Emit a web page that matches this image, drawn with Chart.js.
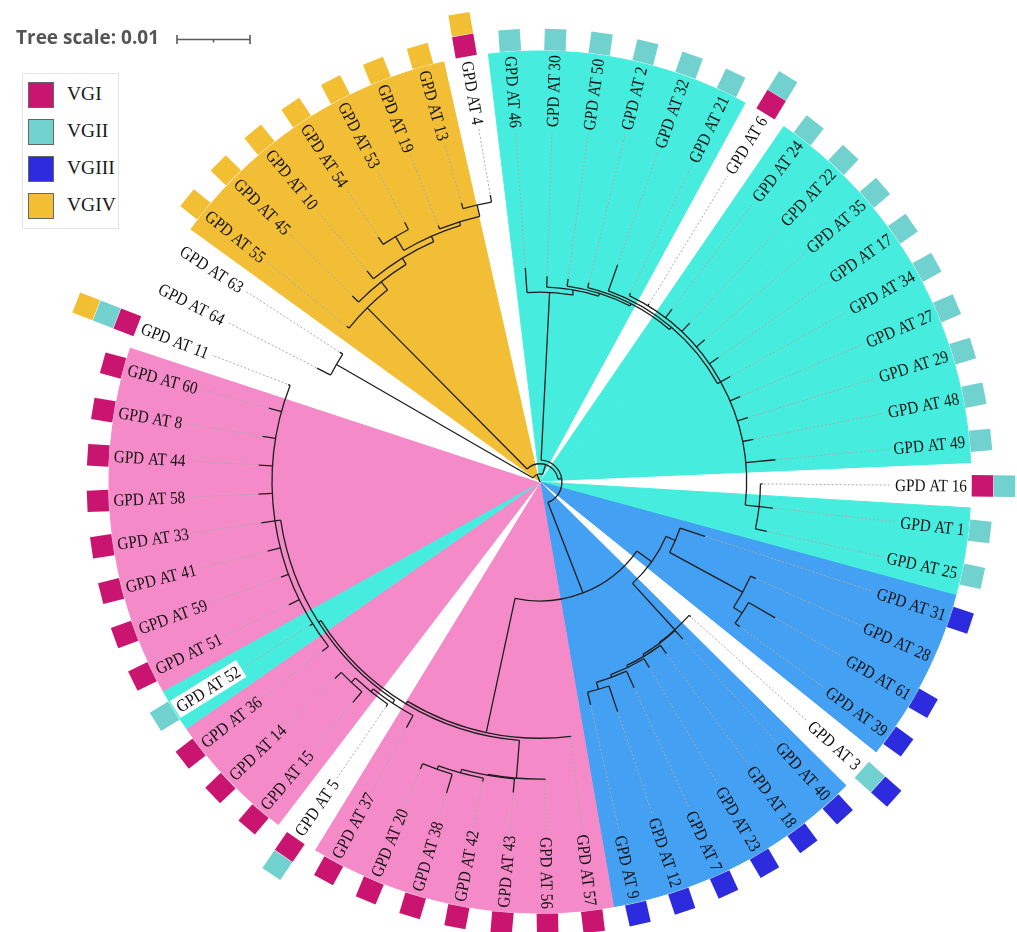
<!DOCTYPE html>
<html>
<head>
<meta charset="utf-8">
<title>GPD AT tree</title>
<script src="https://cdn.jsdelivr.net/npm/chart.js@4.4.1/dist/chart.umd.min.js"></script>
<style>
  html, body { margin: 0; padding: 0; background: #fff; }
  #wrap { position: relative; width: 1017px; height: 932px; overflow: hidden; }
  #wrap canvas { position: absolute; left: 0; top: 0; width: 1017px; height: 932px; }
  #scaleText { position: absolute; left: 16px; top: 28px; font: bold 19px "Open Sans", sans-serif; line-height: 19px; color: #555; white-space: nowrap; }
  #legend { position: absolute; left: 22px; top: 73px; width: 95px; height: 154px; border: 1px solid #e4e4e4; background: #fff; }
  .sw { position: absolute; left: 5px; width: 24px; height: 24px; border: 1px solid #666; }
  .lt { position: absolute; left: 44px; font: 19.5px "Liberation Serif", serif; line-height: 24px; color: #1a1a1a; white-space: nowrap; }
</style>
</head>
<body>
<div id="wrap">
  <canvas id="wedges" width="1017" height="932"></canvas>
  <canvas id="tree" width="1017" height="932"></canvas>
  <div id="scaleText">Tree scale: 0.01</div>
  <div id="legend"></div>
</div>
<script>
// ---- data: tree (leaves are the numbers of "GPD AT n"), branch lengths in subst./site
const treeNewick =
  "((64:0.0021,63:0.0005):0.0311," +
  "((55:0.0004,(45:0.0012,(10:0.0014,((54:0.0012,53:0.0011):0.0022,(19:0.0005,(13:0.0008,4:0.0010):0.0016):0.0005):0.0008):0.0010):0.0014):0.0311," +
  "((46:0.0034,(30:0.0015,(50:0.0010,(2:0.0007,(32:0.0038,(21:0.0004,6:0.0003,24:0.0015,22:0.0016,35:0.0015,17:0.0015,34:0.0015,27:0.0015,29:0.0015,48:0.0015,49:0.0041,(16:0.0003,1:0.0019,25:0.0016):0.0019):0.0005):0.0004):0.0003):0.0004):0.0007):0.0230," +
  "(((31:0.0036,(28:0.0008,(61:0.0042,39:0.0008):0.0014):0.0114):0.0014,(3:0.0003,(40:0.0016,(18:0.0014,(23:0.0014,(7:0.0025,(12:0.0037,9:0.0018):0.0010):0.0004):0.0003):0.0003):0.0001):0.0086):0.0025," +
  "(57:0.0001,((56:0.0001,(43:0.0019,(42:0.0005,(38:0.0027,20:0.0008):0.0005):0.0005):0.0001):0.0052,((37:0.0019,(5:0.0004,(15:0.0019,14:0.0012):0.0008):0.0005):0.0005,(36:0.0011,52:0.0005,51:0.0016,59:0.0011,41:0.0018,33:0.0019,58:0.0019,44:0.0019,8:0.0018,60:0.0018,11:0.0003):0.0008):0.0004):0.0004):0.0188):0.0133):0.0005):0.0014):0.0011;";

// coloured clade ranges
const cladeYellow = [55, 45, 10, 54, 53, 19, 13];
const cladeCyan = [46, 30, 50, 2, 32, 21, 24, 22, 35, 17, 34, 27, 29, 48, 49, 1, 25, 52];
const cladeBlue = [31, 28, 61, 39, 40, 18, 23, 7, 12, 9];
const cladePink = [57, 56, 43, 42, 38, 20, 37, 15, 14, 36, 51, 59, 41, 33, 58, 44, 8, 60];

// molecular types per isolate (outer squares)
const genotypes = ['VGI', 'VGII', 'VGIII', 'VGIV'];
const withVGI = [4, 6, 16, 57, 56, 43, 42, 38, 20, 37, 5, 15, 14, 36, 51, 59, 41, 33, 58, 44, 8, 60, 11];
const withVGII = [46, 30, 50, 2, 32, 21, 6, 24, 22, 35, 17, 34, 27, 29, 48, 49, 16, 1, 25, 3, 5, 52, 11];
const withVGIII = [31, 61, 39, 3, 40, 18, 23, 7, 12, 9];
const withVGIV = [55, 45, 10, 54, 53, 19, 13, 4, 11];
const boxedLabels = [52];
const TREE_SCALE = 0.01;

// ---- look
const PX_PER_SUB = 7300;               // 0.01 -> 73 px
const ANCHOR_LEAF = '16', ANCHOR_ANGLE = 0.5;
const WEDGE_R = 431, LABEL_R = 427, RING_R = [442.5, 464.5, 486.5], SQUARE = 21.5;
const LABEL_FONT = '17.5px "Liberation Serif", serif', LABEL_SX = 0.87;
const wedgeColor = { yellow: '#F2BE35', cyan: '#46EDDE', blue: '#44A0F2', pink: '#F58AC9', none: '#FFFFFF' };
const genoColor = { VGI: '#C9156F', VGII: '#70D1CE', VGIII: '#2C2CDE', VGIV: '#F2BE32' };
const D2R = Math.PI / 180;

function parseNewick(str) {
  const s = str.replace(/\s+/g, '');
  let i = 0;
  function read() {
    const n = { children: [], name: '', len: 0 };
    if (s[i] === '(') {
      i++;
      do { n.children.push(read()); } while (s[i++] === ',');
    }
    let tok = '';
    while (i < s.length && ':,();'.indexOf(s[i]) < 0) tok += s[i++];
    n.name = tok;
    if (s[i] === ':') {
      i++; tok = '';
      while (i < s.length && ',();'.indexOf(s[i]) < 0) tok += s[i++];
      n.len = parseFloat(tok);
    }
    return n;
  }
  return read();
}

const root = parseNewick(treeNewick);
const nodes = [], leaves = [];
(function walk(n, parentDepth) {
  n.parentDepth = parentDepth;
  n.depth = parentDepth + n.len * PX_PER_SUB;
  nodes.push(n);
  if (!n.children.length) leaves.push(n);
  n.children.forEach(c => walk(c, n.depth));
})(root, 0);

const STEP = 360 / leaves.length;
const START = ANCHOR_ANGLE - leaves.findIndex(l => l.name === ANCHOR_LEAF) * STEP;
leaves.forEach((l, k) => { l.angle = START + k * STEP; l.label = 'GPD AT ' + l.name; l.num = +l.name; });
(function setAngle(n) {
  if (!n.children.length) return;
  n.children.forEach(setAngle);
  n.angle = (n.children[0].angle + n.children[n.children.length - 1].angle) / 2;
})(root);

const pt = (r, a) => ({ x: r * Math.cos(a * D2R), y: -r * Math.sin(a * D2R) });

// radial branches as one broken line
const branchData = [];
nodes.forEach(n => {
  branchData.push(pt(n.parentDepth, n.angle), pt(n.depth, n.angle), { x: NaN, y: NaN });
});

// squares, inner ring first in genotype order
const genoLists = { VGI: withVGI, VGII: withVGII, VGIII: withVGIII, VGIV: withVGIV };
const squareSets = genotypes.map(g => ({ g, data: [] }));
leaves.forEach(l => {
  let ring = 0;
  genotypes.forEach((g, gi) => {
    if (genoLists[g].includes(l.num)) {
      const p = pt(RING_R[ring], l.angle);
      p.rot = l.angle;
      squareSets[gi].data.push(p);
      ring++;
    }
  });
});

const wedgeFill = leaves.map(l => {
  if (cladeYellow.includes(l.num)) return wedgeColor.yellow;
  if (cladeCyan.includes(l.num)) return wedgeColor.cyan;
  if (cladeBlue.includes(l.num)) return wedgeColor.blue;
  if (cladePink.includes(l.num)) return wedgeColor.pink;
  return wedgeColor.none;
});

// background clade wedges
new Chart(document.getElementById('wedges'), {
  type: 'pie',
  data: {
    labels: leaves.map(l => l.label),
    datasets: [{ data: leaves.map(() => 1), backgroundColor: wedgeFill, borderColor: wedgeFill, borderWidth: 1 }]
  },
  options: {
    responsive: false, animation: false, events: [],
    rotation: START + 90 - STEP / 2,
    radius: WEDGE_R,
    layout: { autoPadding: false, padding: { left: 63, top: 32, right: 0, bottom: 0 } },
    plugins: { legend: { display: false }, tooltip: { enabled: false } }
  }
});

const decor = {
  id: 'decor',
  beforeDatasetsDraw(chart) {
    const { ctx, scales: { x, y } } = chart;
    const cx = x.getPixelForValue(0), cy = y.getPixelForValue(0);
    const rpx = r => x.getPixelForValue(r) - cx;
    ctx.save();
    ctx.strokeStyle = '#1e1e1e';
    ctx.lineWidth = 1.3;
    nodes.forEach(n => {
      if (n.children.length < 2) return;
      const a0 = n.children[0].angle, a1 = n.children[n.children.length - 1].angle;
      ctx.beginPath();
      ctx.arc(cx, cy, rpx(n.depth), a0 * D2R, a1 * D2R);
      ctx.stroke();
    });
    // dotted leaders from tips to labels
    ctx.font = LABEL_FONT;
    ctx.strokeStyle = '#a9a9a9';
    ctx.lineWidth = 1;
    ctx.setLineDash([2, 2]);
    leaves.forEach(l => {
      const w = ctx.measureText(l.label).width * LABEL_SX;
      const r0 = l.depth + 1, r1 = LABEL_R - w - 4;
      if (r1 <= r0) return;
      const p0 = pt(r0, l.angle), p1 = pt(r1, l.angle);
      ctx.beginPath();
      ctx.moveTo(x.getPixelForValue(p0.x), y.getPixelForValue(p0.y));
      ctx.lineTo(x.getPixelForValue(p1.x), y.getPixelForValue(p1.y));
      ctx.stroke();
    });
    ctx.restore();
  },
  afterDatasetsDraw(chart) {
    const { ctx, scales: { x, y } } = chart;
    const cx = x.getPixelForValue(0), cy = y.getPixelForValue(0);
    const R = x.getPixelForValue(LABEL_R) - cx;
    ctx.save();
    ctx.font = LABEL_FONT;
    ctx.textBaseline = 'alphabetic';
    ctx.textAlign = 'left';
    leaves.forEach(l => {
      const a = ((l.angle + 180) % 360 + 360) % 360 - 180;
      const w = ctx.measureText(l.label).width * LABEL_SX;
      ctx.save();
      ctx.translate(cx, cy);
      let x0;
      if (a > -90 && a < 90) { ctx.rotate(a * D2R); x0 = R - w; }
      else { ctx.rotate((a + 180) * D2R); x0 = -R; }
      if (boxedLabels.includes(l.num)) {
        ctx.fillStyle = '#fff';
        ctx.fillRect(x0 - 3, -10, w + 6, 20);
      }
      ctx.translate(x0, 0);
      ctx.scale(LABEL_SX, 1);
      ctx.fillStyle = '#111';
      ctx.fillText(l.label, 0, 5.8);
      ctx.restore();
    });
    // scale bar
    const len = x.getPixelForValue(TREE_SCALE * PX_PER_SUB) - cx;
    const bx = 177, by = 39.5;
    ctx.strokeStyle = '#5a5a5a';
    ctx.lineWidth = 1.6;
    ctx.beginPath();
    ctx.moveTo(bx, by); ctx.lineTo(bx + len, by);
    ctx.moveTo(bx, by - 4.5); ctx.lineTo(bx, by + 4.5);
    ctx.moveTo(bx + len, by - 4.5); ctx.lineTo(bx + len, by + 4.5);
    ctx.moveTo(bx + len / 2, by); ctx.lineTo(bx + len / 2, by + 3);
    ctx.stroke();
    ctx.restore();
  }
};

new Chart(document.getElementById('tree'), {
  type: 'scatter',
  data: {
    datasets: [
      { label: 'branches', data: branchData, showLine: true, borderColor: '#1e1e1e', borderWidth: 1.3,
        pointRadius: 0, pointHoverRadius: 0, spanGaps: false, clip: false },
      ...squareSets.map(s => ({
        label: s.g, data: s.data, showLine: false, clip: false,
        pointStyle: 'rect',
        pointRadius: SQUARE / Math.SQRT2, pointHoverRadius: SQUARE / Math.SQRT2,
        pointRotation: c => (c.raw ? c.raw.rot : 0),
        pointBackgroundColor: genoColor[s.g], backgroundColor: genoColor[s.g],
        pointBorderColor: genoColor[s.g], borderColor: genoColor[s.g], pointBorderWidth: 0
      }))
    ]
  },
  options: {
    responsive: false, animation: false, events: [],
    layout: { autoPadding: false, padding: 0 },
    scales: {
      x: { type: 'linear', min: -540, max: 477, display: false },
      y: { type: 'linear', min: -450, max: 482, display: false }
    },
    plugins: { legend: { display: false }, tooltip: { enabled: false } }
  },
  plugins: [decor]
});

// legend
const legend = document.getElementById('legend');
genotypes.forEach((g, i) => {
  const sw = document.createElement('div');
  sw.className = 'sw';
  sw.style.top = (8 + 37 * i) + 'px';
  sw.style.background = genoColor[g];
  legend.appendChild(sw);
  const t = document.createElement('div');
  t.className = 'lt';
  t.style.top = (7.6 + 37 * i) + 'px';
  t.textContent = g;
  legend.appendChild(t);
});
</script>
</body>
</html>
